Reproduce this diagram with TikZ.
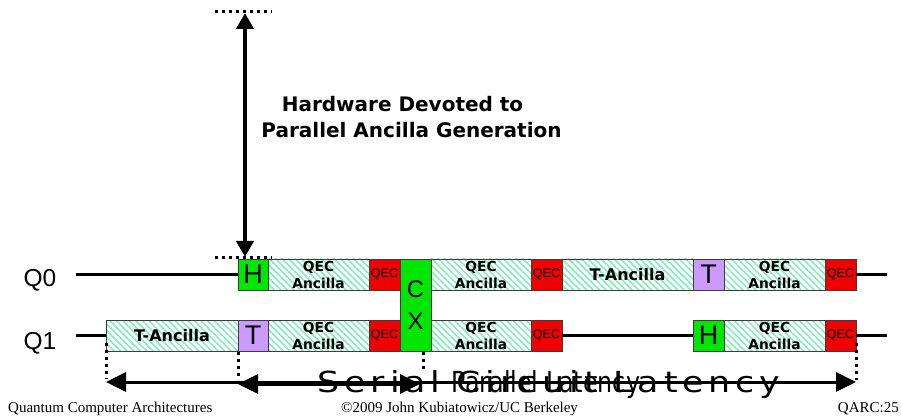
\documentclass[tikz,border=0pt]{standalone}
\usepackage{fontspec}
\usepackage{graphicx}
\setmainfont{Liberation Serif}
\newfontfamily\arialfont{Liberation Sans}
\newfontfamily\handfont{DejaVu Sans}
\newfontfamily\handwide{DejaVu Sans}[LetterSpace=14]
\usetikzlibrary{arrows.meta,patterns.meta}

\definecolor{gategreen}{RGB}{0,230,0}
\definecolor{qecred}{RGB}{240,0,0}
\definecolor{tpurple}{RGB}{204,153,255}
\definecolor{hatchmint}{RGB}{140,235,190}
\definecolor{edgegray}{RGB}{60,60,60}

\begin{document}
\begin{tikzpicture}[x=1pt,y=-1pt,
  box/.style={draw=edgegray, line width=0.9pt, minimum height=31pt,
    inner sep=0pt, outer sep=0pt, anchor=west},
  gatebox/.style={box, font=\arialfont\fontsize{27}{30}\selectfont},
  qecbox/.style={box, fill=qecred, minimum width=31pt,
    font=\arialfont\fontsize{12.5}{14}\selectfont},
  hatched/.style={box, pattern={Lines[angle=-45,distance=4.6pt,line width=1.7pt]},
    pattern color=hatchmint},
  ancbox/.style={hatched, align=center,
    font=\handfont\bfseries\fontsize{13.8}{17}\selectfont},
  tancbox/.style={hatched, font=\handfont\bfseries\fontsize{16}{18}\selectfont},
  cxbox/.style={box, fill=gategreen, minimum width=31pt, minimum height=92pt,
    align=center, font=\arialfont\fontsize{24}{32}\selectfont},
  wire/.style={line width=3pt, black},
  qlabel/.style={anchor=base, font=\arialfont\fontsize{24.5}{28}\selectfont},
  dotline/.style={line width=3pt, dash pattern=on 3pt off 4pt},
  bigarrow/.style={line width=4pt, {Triangle[length=16pt,width=17pt]}-{Triangle[length=16pt,width=17pt]}},
  latarrow/.style={line width=3pt, {Triangle[length=20pt,width=19pt]}-{Triangle[length=20pt,width=19pt]}},
  note/.style={anchor=base, font=\handfont\bfseries\fontsize{20}{23}\selectfont},
  footer/.style={font=\fontsize{15}{17}\selectfont}
]
\useasboundingbox (0,0) rectangle (901,419);

% qubit labels
\node[qlabel] (q0) at (40,287) {Q0};
\node[qlabel] (q1) at (40,349) {Q1};

% Q0 row
\node[gatebox, fill=gategreen, minimum width=30pt] (h0) at (238,274.5) {H};
\node[ancbox, minimum width=101pt] (a01) at (268,274.5) {QEC\\Ancilla};
\node[qecbox] (e01) at (369,274.5) {QEC};
\node[cxbox] (cx) at (400,305) {C\\X};
\node[ancbox, minimum width=100pt] (a02) at (431,274.5) {QEC\\Ancilla};
\node[qecbox] (e02) at (531,274.5) {QEC};
\node[tancbox, minimum width=131pt] (ta0) at (562,274.5) {T-Ancilla};
\node[gatebox, fill=tpurple, minimum width=31pt] (t0) at (693,274.5) {T};
\node[ancbox, minimum width=101pt] (a03) at (724,274.5) {QEC\\Ancilla};
\node[qecbox] (e03) at (825,274.5) {QEC};

% Q1 row
\node[tancbox, minimum width=132pt] (ta1) at (106,335.5) {T-Ancilla};
\node[gatebox, fill=tpurple, minimum width=30pt] (t1) at (238,335.5) {T};
\node[ancbox, minimum width=101pt] (a11) at (268,335.5) {QEC\\Ancilla};
\node[qecbox] (e11) at (369,335.5) {QEC};
\node[ancbox, minimum width=100pt] (a12) at (431,335.5) {QEC\\Ancilla};
\node[qecbox] (e12) at (531,335.5) {QEC};
\node[gatebox, fill=gategreen, minimum width=31pt] (h1) at (693,335.5) {H};
\node[ancbox, minimum width=101pt] (a13) at (724,335.5) {QEC\\Ancilla};
\node[qecbox] (e13) at (825,335.5) {QEC};

% wires
\coordinate (w0s) at (76,274.5);
\coordinate (w0e) at (887,274.5);
\coordinate (w1s) at (76,335.5);
\coordinate (w1e) at (887,335.5);
\draw[wire] (w0s) -- (h0.west);
\draw[wire] (e03.east) -- (w0e);
\draw[wire] (w1s) -- (ta1.west);
\draw[wire] (e12.east) -- (h1.west);
\draw[wire] (e13.east) -- (w1e);

% ancilla hardware span
\coordinate (dtl) at (215,12);
\coordinate (dtr) at (272,12);
\coordinate (dbl) at (215,258);
\coordinate (dbr) at (272,258);
\draw[dotline] (dtl) -- (dtr);
\draw[dotline] (dbl) -- (dbr);
\coordinate (hwtop) at (245,13);
\coordinate (hwbot) at (245,257);
\draw[bigarrow] (hwtop) -- (hwbot);
\node[note] (hw1) at (402.5,112) {Hardware Devoted to};
\node[note] (hw2) at (411.5,138) {Parallel Ancilla Generation};

% latency markers
\coordinate (m1a) at (106,343); \coordinate (m1b) at (106,379);
\coordinate (m2a) at (238,352); \coordinate (m2b) at (238,380);
\coordinate (m3a) at (423,352); \coordinate (m3b) at (423,370);
\coordinate (m4a) at (856,343); \coordinate (m4b) at (856,380);
\draw[dotline] (m1a) -- (m1b);
\draw[dotline] (m2a) -- (m2b);
\draw[dotline] (m3a) -- (m3b);
\draw[dotline] (m4a) -- (m4b);

\coordinate (sl) at (106,382);
\coordinate (sr) at (856,382);
\coordinate (pl) at (238,384);
\coordinate (pr) at (420,384);
\draw[latarrow] (sl) -- (sr);
\draw[latarrow] (pl) -- (pr);

\node[anchor=base, font=\handwide\fontsize{29}{31}\selectfont] (serial) at (549,392) {\scalebox{1.2}[1]{Serial Circuit Latency}};
\node[anchor=base, font=\handfont\fontsize{29}{31}\selectfont] (parallel) at (546,392) {\scalebox{0.82}[1]{Parallel Latency}};

% footer
\node[footer, anchor=base west, inner sep=0pt] (f1) at (8,412) {Quantum Computer Architectures};
\node[footer, anchor=base west, inner sep=0pt] (f2) at (341,412) {\textcopyright2009 John Kubiatowicz/UC Berkeley};
\node[footer, anchor=base east, inner sep=0pt] (f3) at (899,412) {QARC:25};
\end{tikzpicture}
\end{document}
